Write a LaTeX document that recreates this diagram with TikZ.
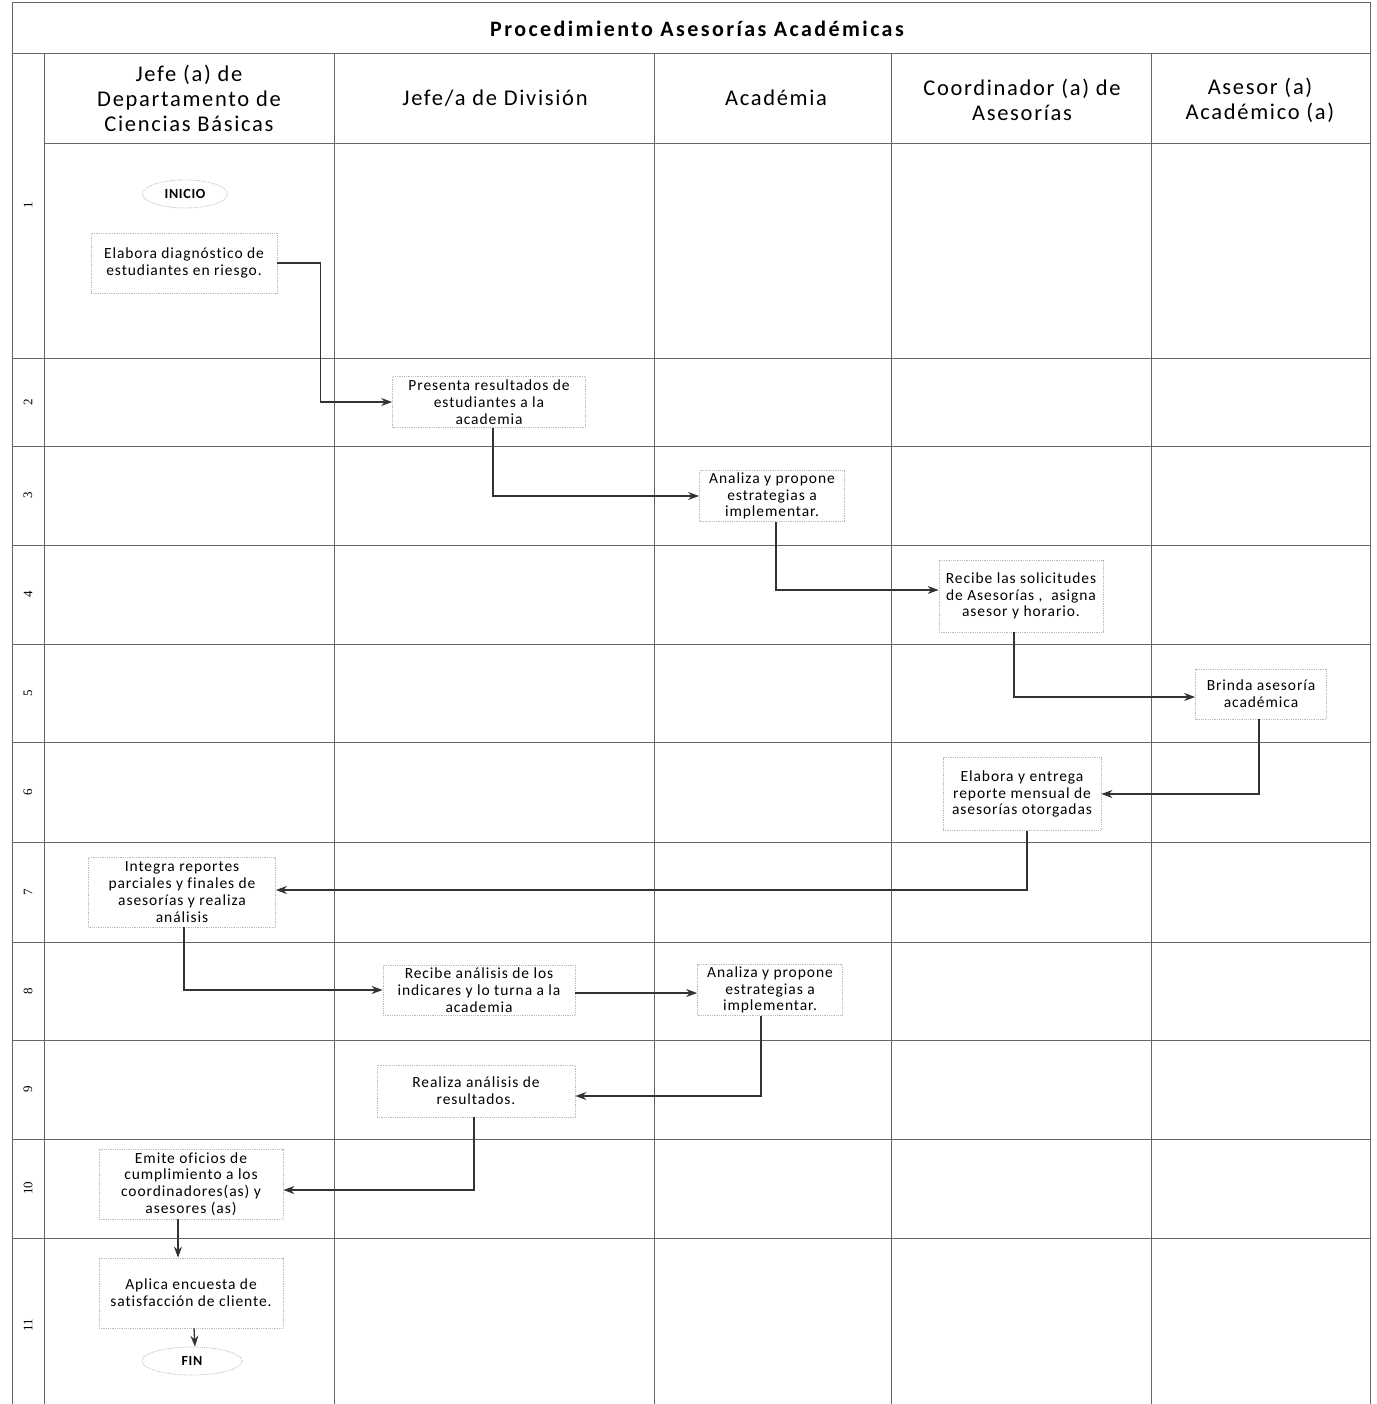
\documentclass[tikz,border=0pt]{standalone}
\usepackage{fontspec}
\setmainfont{Carlito}[Ligatures=NoCommon]
\newfontfamily\numfont{Liberation Serif}
\usetikzlibrary{arrows.meta,shapes.geometric}
\begin{document}
\begin{tikzpicture}[x=1pt,y=-1pt,
  gridline/.style={draw=black!60,line width=0.9pt},
  stepbox/.style={draw=gray!55,densely dotted,line width=0.8pt,align=center,inner sep=2pt,
    font=\fontsize{15.5}{16.8}\selectfont\addfontfeatures{LetterSpace=6}},
  termnode/.style={ellipse,draw=gray!55,densely dotted,line width=0.8pt,inner sep=0pt,
    font=\fontsize{14}{16}\selectfont\bfseries\addfontfeatures{LetterSpace=5}},
  headtext/.style={align=center,font=\fontsize{22.5}{25}\selectfont\addfontfeatures{LetterSpace=7.5}},
  rownum/.style={rotate=90,font=\numfont\fontsize{13}{15}\selectfont},
  arr/.style={draw=black!80,line width=1.3pt,-{Stealth[length=11pt,width=8pt]}}]
\useasboundingbox (0,0) rectangle (1376,1404);
% frame and grid
\draw[gridline] (12,1404) -- (12,2) -- (1370,2) -- (1370,1404);
\draw[gridline] (12,53) -- (1370,53);
\draw[gridline] (44,143) -- (1370,143);
\foreach \yy in {358,446,545,644,742,842,942,1040,1139,1238}
  \draw[gridline] (12,\yy) -- (1370,\yy);
\foreach \xx in {44,334,654,891,1151}
  \draw[gridline] (\xx,53) -- (\xx,1404);
% title and headers
\node[font=\fontsize{22}{26}\selectfont\bfseries\addfontfeatures{LetterSpace=11}] (title) at (697,29) {Procedimiento Asesorías Académicas};
\node[headtext] (h1) at (189,98) {Jefe (a) de\\Departamento de\\Ciencias Básicas};
\node[headtext] (h2) at (495,98) {Jefe/a de División};
\node[headtext] (h3) at (776,98) {Académia};
\node[headtext] (h4) at (1022,100) {Coordinador (a) de\\Asesorías};
\node[headtext] (h5) at (1260,100) {Asesor (a)\\Académico (a)};
% row numbers
\node[rownum] (r1) at (28,205) {1};
\node[rownum] (r2) at (28,402) {2};
\node[rownum] (r3) at (28,495) {3};
\node[rownum] (r4) at (28,594) {4};
\node[rownum] (r5) at (28,693) {5};
\node[rownum] (r6) at (28,792) {6};
\node[rownum] (r7) at (28,892) {7};
\node[rownum] (r8) at (28,991) {8};
\node[rownum] (r9) at (28,1089) {9};
\node[rownum] (r10) at (28,1188) {10};
\node[rownum] (r11) at (28,1325) {11};
% steps
\node[termnode,minimum width=85pt,minimum height=28pt] (ini) at (185,194) {INICIO};
\node[stepbox,minimum width=186pt,minimum height=60pt] (b1) at (184,263) {Elabora diagnóstico de\\estudiantes en riesgo.};
\node[stepbox,minimum width=193pt,minimum height=51pt] (b2) at (489,402) {Presenta resultados de\\estudiantes a la\\academia};
\node[stepbox,minimum width=145pt,minimum height=51pt] (b3) at (772,496) {Analiza y propone\\estrategias a\\implementar.};
\node[stepbox,minimum width=164pt,minimum height=72pt] (b4) at (1021,596) {Recibe las solicitudes\\de Asesorías ,\ \ asigna\\asesor y horario.};
\node[stepbox,minimum width=131pt,minimum height=50pt] (b5) at (1261,694) {Brinda asesoría\\académica};
\node[stepbox,minimum width=158pt,minimum height=73pt] (b6) at (1022,794) {Elabora y entrega\\reporte mensual de\\asesorías otorgadas};
\node[stepbox,minimum width=187pt,minimum height=70pt] (b7) at (182,892) {Integra reportes\\parciales y finales de\\asesorías y realiza\\análisis};
\node[stepbox,minimum width=192pt,minimum height=50pt] (b8) at (479,990) {Recibe análisis de los\\indicares y lo turna a la\\academia};
\node[stepbox,minimum width=145pt,minimum height=49pt] (b9) at (770,990) {Analiza y propone\\estrategias a\\implementar.};
\node[stepbox,minimum width=198pt,minimum height=52pt] (b10) at (476,1091) {Realiza análisis de\\resultados.};
\node[stepbox,minimum width=184pt,minimum height=70pt] (b11) at (191,1184) {Emite oficios de\\cumplimiento a los\\coordinadores(as) y\\asesores (as)};
\node[stepbox,minimum width=184pt,minimum height=70pt] (b12) at (191,1293) {Aplica encuesta de\\satisfacción de cliente.};
\node[termnode,minimum width=100pt,minimum height=28pt] (fin) at (192,1361) {FIN};
% connectors
\draw[arr] (b1.east) -- ++(43,0) |- (b2.west);
\draw[arr] ([xshift=4pt]b2.south) |- (b3.west);
\draw[arr] ([xshift=4pt]b3.south) |- ([yshift=6pt]b4.west);
\draw[arr] ([xshift=-7pt]b4.south) |- ([yshift=-3pt]b5.west);
\draw[arr] ([xshift=-2pt]b5.south) |- (b6.east);
\draw[arr] ([xshift=5pt]b6.south) |- ([yshift=2pt]b7.east);
\draw[arr] ([xshift=2pt]b7.south) |- (b8.west);
\draw[arr] ([yshift=-3pt]b8.east) -- ([yshift=-3pt]b9.west);
\draw[arr] ([xshift=-9pt]b9.south) |- ([yshift=-5pt]b10.east);
\draw[arr] ([xshift=-2pt]b10.south) |- ([yshift=-6pt]b11.east);
\draw[arr] ([xshift=-13pt]b11.south) -- ([xshift=-13pt]b12.north);
\draw[arr] ([xshift=3pt]b12.south) -- ([xshift=3pt]fin.north);
\end{tikzpicture}
\end{document}
